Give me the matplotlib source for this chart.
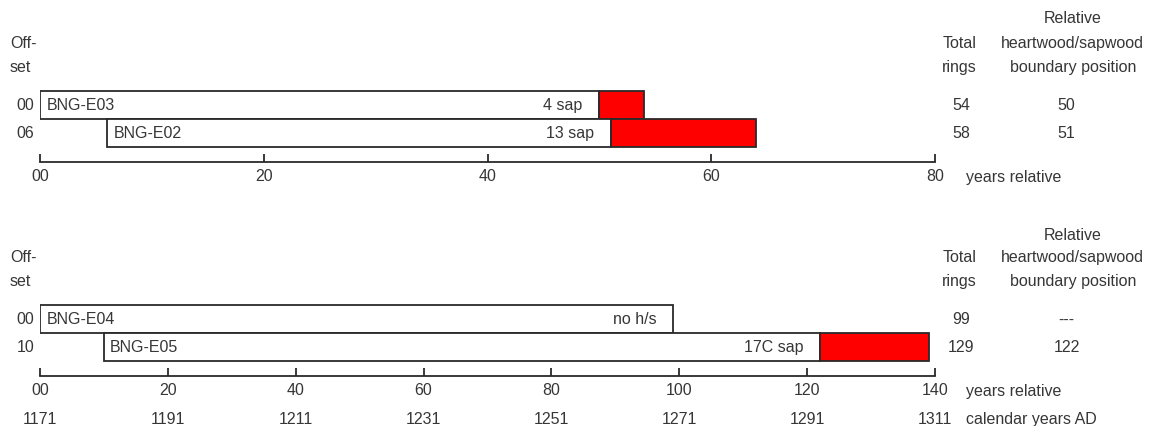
import matplotlib
matplotlib.use("Agg")
import matplotlib.pyplot as plt
import matplotlib.transforms as mtransforms

plt.rcParams['font.family'] = ['Liberation Sans', 'DejaVu Sans']

# ---- data -------------------------------------------------------------
top_names = ['BNG-E03', 'BNG-E02']
top_offsets = [0, 6]
top_total_rings = [54, 58]
top_boundary = [50, 51]
top_notes = ['4 sap', '13 sap']
top_boundary_labels = ['50', '51']
top_offset_labels = ['00', '06']
top_ticks = [0, 20, 40, 60, 80]
top_tick_labels = ['00', '20', '40', '60', '80']

bot_names = ['BNG-E04', 'BNG-E05']
bot_offsets = [0, 10]
bot_total_rings = [99, 129]
bot_boundary = [None, 122]
bot_notes = ['no h/s', '17C sap']
bot_boundary_labels = ['---', '122']
bot_offset_labels = ['00', '10']
bot_ticks = [0, 20, 40, 60, 80, 100, 120, 140]
bot_tick_labels = ['00', '20', '40', '60', '80', '100', '120', '140']
bot_calendar_labels = ['1171', '1191', '1211', '1231', '1251', '1271', '1291', '1311']

TXT = '#363636'
LINE = '#2a2a2a'
RED = '#ff0000'
FS = 11.5

W, H = 1163, 427
fig = plt.figure(figsize=(W / 100, H / 100), dpi=100)


def make_axes(top_px, bottom_px):
    left, right = 40, 935
    return fig.add_axes([left / W, 1 - bottom_px / H, (right - left) / W,
                         (bottom_px - top_px) / H])


def draw_panel(ax, xmax, names, offsets, totals, boundary, notes,
               boundary_labels, offset_labels, ticks, tick_labels,
               header_rel_y):
    # rows are 28 px tall; row 0 centre sits 106 px below the axes top
    ax.set_xlim(0, xmax)
    ax.set_ylim(1.5 + 15 / 28, -0.5 - 92 / 28)
    for s in ('top', 'left', 'right'):
        ax.spines[s].set_visible(False)
    ax.spines['bottom'].set_color(LINE)
    ax.spines['bottom'].set_linewidth(1.3)
    ax.set_yticks([])
    ax.set_xticks(ticks)
    ax.set_xticklabels(tick_labels)
    ax.tick_params(axis='x', direction='in', length=6, width=1.3,
                   color=LINE, labelcolor=TXT, labelsize=FS, pad=4.5)

    for i, name in enumerate(names):
        end = offsets[i] + totals[i]
        hs = boundary[i] if boundary[i] is not None else end
        ax.barh(i, hs - offsets[i], left=offsets[i], height=1.0,
                color='white', edgecolor=LINE, linewidth=1.3, zorder=2)
        if boundary[i] is not None:
            ax.barh(i, end - hs, left=hs, height=1.0, color=RED,
                    edgecolor=LINE, linewidth=1.3, zorder=2)
        ax.annotate(name, xy=(offsets[i], i), xytext=(4.5, 0),
                    textcoords='offset points', ha='left', va='center',
                    color=TXT, fontsize=FS, zorder=3)
        ax.annotate(notes[i], xy=(hs, i), xytext=(-12, 0),
                    textcoords='offset points', ha='right', va='center',
                    color=TXT, fontsize=FS, zorder=3)

    tr = mtransforms.blended_transform_factory(ax.transAxes, ax.transData)
    kw = dict(transform=tr, va='center', color=TXT, fontsize=FS,
              clip_on=False)
    # offset column
    for i, lab in enumerate(offset_labels):
        ax.text(-0.0067, i, lab, ha='right', **kw)
    ax.text(-0.0335, -2.23, 'Off-', ha='left', **kw)
    ax.text(-0.0335, -1.36, 'set', ha='left', **kw)
    # total rings column
    ax.text(1.0275, -2.23, 'Total', ha='center', **kw)
    ax.text(1.0275, -1.36, 'rings', ha='center', **kw)
    for i, t in enumerate(totals):
        ax.text(1.0295, i, str(t), ha='center', **kw)
    # heartwood/sapwood boundary column
    ax.text(1.154, header_rel_y, 'Relative', ha='center', **kw)
    ax.text(1.154, -2.23, 'heartwood/sapwood', ha='center', **kw)
    ax.text(1.154, -1.36, 'boundary position', ha='center', **kw)
    for i, lab in enumerate(boundary_labels):
        ax.text(1.147, i, lab, ha='center', **kw)
    return tr


# top panel: years relative 0-80
ax1 = make_axes(0, 163)
tr1 = draw_panel(ax1, 80, top_names, top_offsets, top_total_rings,
                 top_boundary, top_notes, top_boundary_labels,
                 top_offset_labels, top_ticks, top_tick_labels, -3.14)
ax1.text(1.0346, 2.57, 'years relative', transform=tr1, ha='left',
         va='center', color=TXT, fontsize=FS, clip_on=False)

# bottom panel: years relative 0-140 with calendar years
ax2 = make_axes(214, 377)
tr2 = draw_panel(ax2, 140, bot_names, bot_offsets, bot_total_rings,
                 bot_boundary, bot_notes, bot_boundary_labels,
                 bot_offset_labels, bot_ticks, bot_tick_labels, -3.0)
ax2.text(1.0346, 2.57, 'years relative', transform=tr2, ha='left',
         va='center', color=TXT, fontsize=FS, clip_on=False)
for t, lab in zip(bot_ticks, bot_calendar_labels):
    ax2.text(t, 3.57, lab, ha='center', va='center', color=TXT,
             fontsize=FS, clip_on=False)
ax2.text(1.0346, 3.57, 'calendar years AD', transform=tr2, ha='left',
         va='center', color=TXT, fontsize=FS, clip_on=False)

fig.savefig('out.png', dpi=100)
